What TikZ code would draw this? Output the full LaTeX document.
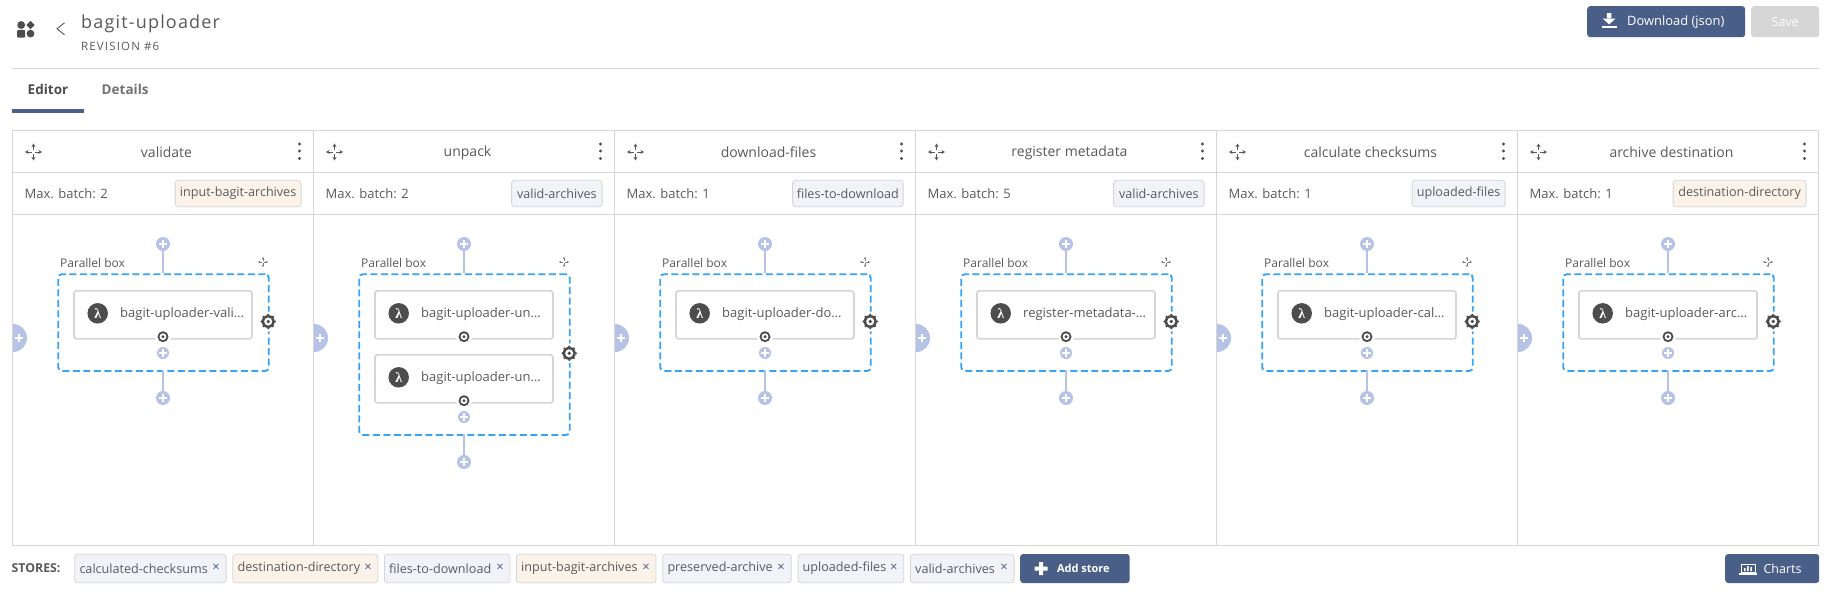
\documentclass[tikz,border=0pt]{standalone}
\usepackage{fontspec}
\setmainfont{Open Sans}
\newfontfamily\spacedfont[LetterSpace=6.5]{Open Sans}
\newfontfamily\spacedsmall[LetterSpace=10]{Open Sans}
\newfontfamily\lamfont{Liberation Serif}
\newcommand{\fsz}[1]{\fontsize{#1}{#1}\selectfont}
\definecolor{txt}{HTML}{5A5A5A}
\definecolor{rule}{HTML}{D6D6D6}
\definecolor{navy}{HTML}{4A5F87}
\definecolor{plusc}{HTML}{B6C2E6}
\definecolor{dashc}{HTML}{36A3F7}
\definecolor{dark}{HTML}{4D4D4D}
\definecolor{tagblue}{HTML}{F1F3F9}
\definecolor{tagorange}{HTML}{FBF3E9}
\usetikzlibrary{arrows.meta}
\tikzset{
  lbl/.style={inner sep=0pt,text=txt,font=\fsz{13}},
  plusdot/.style={circle,fill=plusc,inner sep=0pt,minimum size=#1,
    path picture={\draw[white,line width=1.9pt]
      ([xshift=-0.3*#1 pt]path picture bounding box.center)--([xshift=0.3*#1 pt]path picture bounding box.center)
      ([yshift=-0.3*#1 pt]path picture bounding box.center)--([yshift=0.3*#1 pt]path picture bounding box.center);}},
  taskbox/.style={draw=rule,line width=1.7pt,fill=white,rounded corners=2.5pt,inner sep=0pt,minimum width=178,minimum height=48,anchor=north west},
  parbox/.style={draw=dashc,line width=1.9pt,dash pattern=on 7pt off 3.5pt,rounded corners=3.5pt,inner sep=0pt,minimum width=210.5,anchor=north west},
  link/.style={draw=plusc,line width=1.6pt},
  tagbox/.style={draw=rule,line width=.8pt,rounded corners=3pt,inner sep=0pt,minimum height=26.5,text=txt,font=\fsz{12.6}},
  storetag/.style={draw=rule,line width=.8pt,rounded corners=3pt,inner sep=0pt,minimum height=28.5,anchor=west},
  btn/.style={fill=navy,rounded corners=3pt,inner sep=0pt,text=white},
  gearo/.style={circle,fill=dark,inner sep=0pt,minimum size=#1},
  movearrow/.style={line width=.8pt,draw=txt,-{Stealth[length=3.6pt,width=4pt]}},
  movearrowsmall/.style={line width=.7pt,draw=txt!80,-{Stealth[length=2.2pt,width=2.6pt]}},
  cellline/.style={draw=rule,line width=1pt},
}
\newcommand{\smallgear}[3]{% name,x,y
  \fill[white] (#2,#3) circle[radius=8];
  \node[gearo=11] (#1) at (#2,#3) {};
  \fill[white] (#2,#3) circle[radius=3.4];
  \fill[dark] (#2,#3) circle[radius=1.7];
}
\newcommand{\biggear}[3]{% name,x,y
  \fill[white] (#2,#3) circle[radius=10];
  \node[gearo=13] (#1) at (#2,#3) {};
  \foreach \a in {0,45,...,315}{\fill[dark] (#2,#3) ++(\a:6.6) circle[radius=1.3];}
  \fill[white] (#2,#3) circle[radius=4];
  \fill[dark] (#2,#3) circle[radius=1.9];
}
\newcommand{\moveicon}[4]{% x,y,arm,style
  \draw[#4] (#1-.2*#3,#2)--(#1-#3,#2);
  \draw[#4] (#1+.2*#3,#2)--(#1+#3,#2);
  \draw[#4] (#1,#2-.2*#3)--(#1,#2-#3);
  \draw[#4] (#1,#2+.2*#3)--(#1,#2+#3);
}
\newcommand{\lamcircle}[3]{% name,x,y
  \node[circle,fill=dark,inner sep=0pt,minimum size=20.5,text=white,font=\lamfont\bfseries\fsz{14}] (#1) at (#2,#3) {λ};
}
\begin{document}
\begin{tikzpicture}[x=1pt,y=-1pt]
\useasboundingbox[fill=white] (0,0) rectangle (1824,592);
% app icon
\fill[dark] (21.2,25) circle[radius=3.9];
\fill[dark] (30.5,20.8) -- (34.6,25) -- (30.5,29.2) -- (26.4,25) -- cycle;
\fill[dark,rounded corners=1pt] (17.2,29.8) rectangle (25.2,37.6);
\fill[dark] (30.5,33.6) circle[radius=3.9];
\draw[txt,line width=.9pt] (64.5,22.8)--(57,28.8)--(64.5,34.8);
% title
\node[lbl,anchor=west,font=\spacedfont\fsz{18}] (title) at (81,23.5) {bagit-uploader};
\node[lbl,anchor=west,font=\spacedsmall\fsz{11.5}] (rev) at (81,46) {REVISION \#6};
\draw[cellline] (12,68.5)--(1819,68.5);
\node[lbl,anchor=west,font=\bfseries\fsz{13.5},text=dark] (editor) at (27.5,89) {Editor};
\node[lbl,anchor=west,font=\bfseries\fsz{13.5},text=txt!85] (details) at (101.5,89) {Details};
\fill[navy] (12,109) rectangle (84,113);
% buttons
\node[btn,minimum width=158,minimum height=31,anchor=north west] (dl) at (1587,6) {};
\node[inner sep=0pt,anchor=west,text=white,font=\fsz{12.9}] (dlt) at (1627,21.7) {Download (json)};
\fill[white] (1606.8,13) rectangle (1611.4,19) (1602.6,18.5) -- (1615.6,18.5) -- (1609.1,24.4) -- cycle;
\fill[white] (1601.6,26) rectangle (1617,28.2);
\node[btn,fill=rule,minimum width=68,minimum height=31,anchor=north west,font=\fsz{12.5}] (save) at (1751,6) {Save};
% table
\draw[cellline] (12.5,130.5) rectangle (1818.5,545);
\draw[cellline] (12.5,172.5)--(1818.5,172.5) (12.5,214.5)--(1818.5,214.5);
\foreach \i/\ttl/\batch/\tagt/\tagw/\tagc/\fn in {
 1/validate/2/input-bagit-archives/126/tagorange/bagit-uploader-vali…,
 2/unpack/2/valid-archives/90.5/tagblue/bagit-uploader-un…,
 3/download-files/1/files-to-download/110.5/tagblue/bagit-uploader-do…,
 4/register metadata/5/valid-archives/90.5/tagblue/register-metadata-…,
 5/calculate checksums/1/uploaded-files/93/tagblue/bagit-uploader-cal…,
 6/archive destination/1/destination-directory/133/tagorange/bagit-uploader-arc…}{
  \pgfmathsetmacro{\cx}{12.5+301*(\i-1)}
  \ifnum\i>1 \draw[cellline] (\cx,130.5)--(\cx,545); \fi
  \moveicon{\cx+21}{152}{8.5}{movearrow}
  \node[lbl,font=\fsz{14}] (h\i) at (\cx+154,152.5) {\ttl};
  \foreach \dy in {144,151,158.5}{\fill[dark] (\cx+287,\dy) circle[radius=1.7];}
  \node[lbl,anchor=west] (b\i) at (\cx+12,193.5) {Max. batch: \batch};
  \node[tagbox,fill=\tagc,anchor=east,minimum width=\tagw] (t\i) at (\cx+289,193.5) {\tagt};
  % side add
  \fill[plusc] (\cx+.5,324) arc[start angle=-90,end angle=90,radius=14] -- cycle;
  \draw[white,line width=1.9pt] (\cx+2.5,338)--(\cx+10.5,338) (\cx+6.5,334)--(\cx+6.5,342);
  % parallel box
  \ifnum\i=2 \def\ph{160.7}\def\gy{353.3}\else \def\ph{96.7}\def\gy{321.5}\fi
  \pgfmathsetmacro{\pb}{273.3+\ph}
  \node[parbox,minimum height=\ph] (p\i) at (\cx+44.8,273.3) {};
  \node[lbl,anchor=west,font=\fsz{12}] (pl\i) at (\cx+47.5,263) {Parallel box};
  \moveicon{\cx+250.5}{262}{5}{movearrowsmall}
  \node[plusdot=14] (pt\i) at (\cx+150.5,244) {};
  \draw[link] (pt\i) -- (\cx+150.5,273.3);
  \node[plusdot=14] (pb\i) at (\cx+150.5,\pb+28) {};
  \draw[link] (pb\i) -- (\cx+150.5,\pb);
  \node[taskbox] (f\i) at (\cx+60.6,290) {};
  \lamcircle{l\i}{\cx+85.2}{313.3}
  \node[lbl,anchor=west] (ft\i) at (\cx+107.5,314) {\fn};
  \smallgear{g\i}{\cx+150.5}{336.7}
  \ifnum\i=2
    \node[taskbox] (fb\i) at (\cx+60.6,354) {};
    \lamcircle{lb\i}{\cx+85.2}{377.3}
    \node[lbl,anchor=west] (ftb\i) at (\cx+107.5,378) {\fn};
    \smallgear{gb\i}{\cx+150.5}{400.7}
    \node[plusdot=12] (pi\i) at (\cx+150.5,417) {};
  \else
    \node[plusdot=12] (pi\i) at (\cx+150.5,353) {};
  \fi
  \biggear{gp\i}{\cx+255.7}{\gy}
}
% stores
\node[lbl,anchor=west,font=\bfseries\fsz{12.3}] (stores) at (11.5,568.5) {STORES:};
\foreach \n/\x/\w/\c/\t in {
 1/74.3/151.4/tagblue/calculated-checksums,
 2/232.4/145.1/tagorange/destination-directory,
 3/384/125.5/tagblue/files-to-download,
 4/516/139.6/tagorange/input-bagit-archives,
 5/662.3/128.4/tagblue/preserved-archive,
 6/797.5/105.9/tagblue/uploaded-files,
 7/910/103.7/tagblue/valid-archives}{
  \node[storetag,fill=\c,minimum width=\w] (s\n) at (\x,568.5) {};
  \node[lbl,anchor=west,font=\fsz{12.6}] (st\n) at (\x+5,568.5) {\t};
  \node[inner sep=0pt,text=navy,font=\fsz{13}] (sx\n) at (\x+\w-9.5,568) {×};
}
\node[btn,minimum width=109.5,minimum height=29,anchor=west] (add) at (1020,568.5) {};
\fill[white] (1034.6,566.5) rectangle (1047.7,570.5) (1039.1,562) rectangle (1043.2,575);
\node[inner sep=0pt,anchor=west,text=white,font=\bfseries\fsz{11}] (addt) at (1056.8,568.8) {Add store};
\node[btn,minimum width=94,minimum height=29,anchor=west] (charts) at (1725,568.5) {};
\draw[white,line width=1pt] (1741,564) rectangle (1755,572);
\fill[white] (1738.5,572.5) rectangle (1757,574.5);
\fill[white] (1744,568) rectangle (1745.5,571) (1747.2,566) rectangle (1748.7,571) (1750.4,567) rectangle (1751.9,571);
\node[inner sep=0pt,anchor=west,text=white,font=\fsz{12.5}] (chartst) at (1763.3,568.8) {Charts};
\end{tikzpicture}
\end{document}
